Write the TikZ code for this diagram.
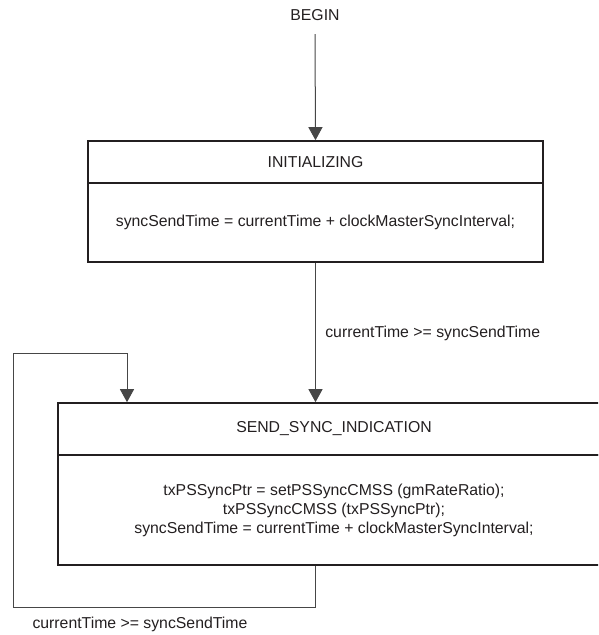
\documentclass[tikz,border=0pt]{standalone}
\usepackage{fontspec}
\setmainfont{Liberation Sans}
\usetikzlibrary{arrows.meta}
\definecolor{ink}{RGB}{35,31,32}
\definecolor{wire}{RGB}{70,70,70}
\begin{document}
\begin{tikzpicture}[x=1pt,y=-1pt,
    every node/.style={font=\fontsize{15.8}{19}\selectfont,text=ink},
    part/.style={draw=ink,line width=1.6pt,inner sep=0pt,align=center},
    conn/.style={draw=wire,line width=1pt},
    >={Triangle[width=14pt,length=13pt]}]
        \useasboundingbox (0,0) rectangle (598,635);
        \clip (0,0) rectangle (598,635);
        \node (begin) at (315,15) {BEGIN};
        \node[part,minimum width=455pt,minimum height=42pt] (initT) at (315.5,162) {INITIALIZING};
        \node[part,minimum width=455pt,minimum height=79pt] (initB) at (315.5,222.5)
            {syncSendTime = currentTime + clockMasterSyncInterval;};
        \node[part,minimum width=552pt,minimum height=52pt] (sendT) at (334,429) {SEND\_SYNC\_INDICATION};
        \node[part,minimum width=552pt,minimum height=110pt] (sendB) at (334,510)
            {txPSSyncPtr = setPSSyncCMSS (gmRateRatio);\\
             txPSSyncCMSS (txPSSyncPtr);\\
             syncSendTime = currentTime + clockMasterSyncInterval;};
        \coordinate (loopL) at (13,607);
        \coordinate (loopT) at (127,353);
        \draw[conn,->] (begin.south) ++(0,10) -- (initT.north);
        \draw[conn,->] (initB.south) -- (initB.south |- sendT.north)
            node[pos=0.51,right=6pt] {currentTime >= syncSendTime};
        \draw[conn,->] (initB.south |- sendB.south) |- (loopL) |- (loopT) -- (loopT |- sendT.north);
        \node[anchor=west] (back) at (29,624) {currentTime >= syncSendTime};
\end{tikzpicture}
\end{document}
